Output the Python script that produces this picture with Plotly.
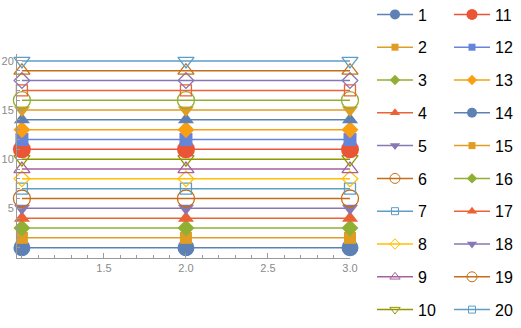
import plotly.graph_objects as go

# ---- data ----
series_names = [str(i) for i in range(1, 21)]
x_values = [1, 2, 3]
series_values = [[i, i, i] for i in range(1, 21)]

colors = ["#5E81B5", "#E19C24", "#8FB032", "#EB6235", "#8778B3",
          "#C56E1A", "#5D9EC7", "#FFBF00", "#A5609D", "#929600",
          "#E95536", "#6685D9", "#F89F13", "#5E81B5", "#E19C24",
          "#8FB032", "#EB6235", "#8778B3", "#C56E1A", "#5D9EC7"]

plot_symbols = ["circle", "square", "diamond", "triangle-up", "triangle-down",
                "circle-open", "square-open", "diamond-open", "triangle-up-open", "triangle-down-open"] * 2
plot_sizes = [17, 12, 13, 14, 14, 17, 11, 12, 14, 14,
              18, 13, 13, 14, 14, 17, 11, 12, 14, 14]

legend_symbols = ["circle", "square", "diamond", "triangle-up", "triangle-down",
                  "circle-open", "square-open", "diamond-open", "triangle-up-open", "triangle-down-open",
                  "circle", "square", "diamond", "circle", "square",
                  "diamond", "triangle-up", "triangle-down", "circle-open", "square-open"]
legend_sizes = [10, 7, 8, 9, 9, 10, 7, 8, 9, 9,
                11, 7, 8, 10, 7, 8, 9, 9, 10, 7]

x_tickvals = [1.5, 2.0, 2.5, 3.0]
x_ticktext = ["1.5", "2.0", "2.5", "3.0"]
y_tickvals = [5, 10, 15, 20]
y_ticktext = ["5", "10", "15", "20"]

W, H = 521, 328
PLOT_TOP, PLOT_BOTTOM = 54, 258
fig = go.Figure()

for i, name in enumerate(series_names):
    sym = plot_symbols[i]
    is_open = sym.endswith("-open")
    fig.add_trace(go.Scatter(
        x=x_values, y=series_values[i], mode="lines+markers",
        line=dict(color=colors[i], width=1.5),
        marker=dict(symbol=sym, size=plot_sizes[i], color=colors[i],
                    line=dict(width=1.3 if is_open else 0, color=colors[i])),
        cliponaxis=False, showlegend=False, hoverinfo="skip"))

for i, name in enumerate(series_names):
    sym = legend_symbols[i]
    is_open = sym.endswith("-open")
    fig.add_trace(go.Scatter(
        x=[None], y=[None], mode="lines+markers", name=name,
        line=dict(color=colors[i], width=1.5),
        marker=dict(symbol=sym, size=legend_sizes[i], color=colors[i],
                    line=dict(width=1 if is_open else 0, color=colors[i])),
        legend="legend" if i < 10 else "legend2",
        legendgroup="g" + name))

axis_color = "#9a9a9a"
tick_font = dict(family="Liberation Sans, Arial, sans-serif", size=11, color="#8a8a8a")
leg_font = dict(family="Liberation Sans, Arial, sans-serif", size=16, color="#000000")

leg_top_px = -2.5
leg_y = (PLOT_BOTTOM - leg_top_px) / (PLOT_BOTTOM - PLOT_TOP)

fig.update_layout(
    width=W, height=H,
    margin=dict(l=17, r=W - 350, t=PLOT_TOP, b=H - PLOT_BOTTOM, autoexpand=False),
    paper_bgcolor="white", plot_bgcolor="white",
    xaxis=dict(range=[0.97, 3.0], showgrid=False, zeroline=False,
               showline=True, linecolor=axis_color, linewidth=1,
               ticks="inside", ticklen=5, tickcolor=axis_color,
               tickvals=x_tickvals, ticktext=x_ticktext, tickfont=tick_font,
               minor=dict(dtick=0.1, tick0=1, ticks="inside", ticklen=3, tickcolor=axis_color)),
    yaxis=dict(range=[-0.05, 20.7], showgrid=False, zeroline=False,
               showline=True, linecolor=axis_color, linewidth=1,
               ticks="inside", ticklen=5, tickcolor=axis_color,
               tickvals=y_tickvals, ticktext=y_ticktext, tickfont=tick_font,
               minor=dict(dtick=1, tick0=0, ticks="inside", ticklen=3, tickcolor=axis_color)),
    legend=dict(xref="container", yref="paper", x=372 / W, y=leg_y,
                xanchor="left", yanchor="top", font=leg_font, tracegroupgap=9,
                itemwidth=36, maxheight=400, bgcolor="rgba(0,0,0,0)"),
    legend2=dict(xref="container", yref="paper", x=449 / W, y=leg_y,
                 xanchor="left", yanchor="top", font=leg_font, tracegroupgap=9,
                 itemwidth=36, maxheight=400, bgcolor="rgba(0,0,0,0)"),
)

fig.write_html("out.html")
